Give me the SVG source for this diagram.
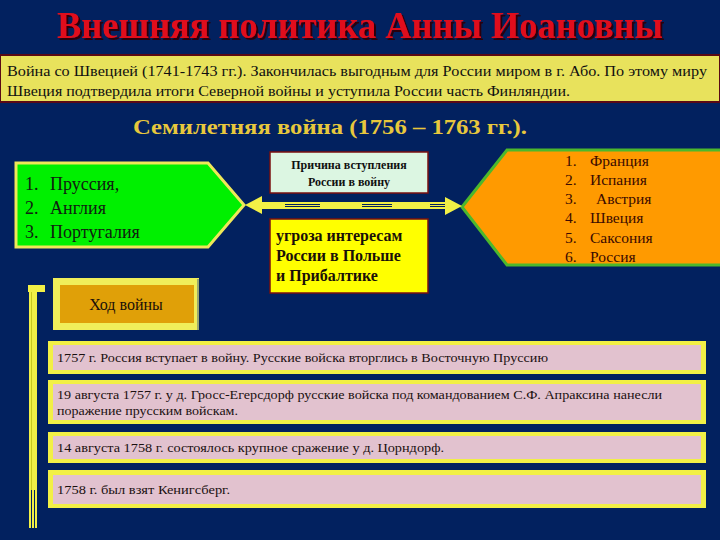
<svg xmlns="http://www.w3.org/2000/svg" width="720" height="540" viewBox="0 0 720 540">
<defs>
<filter id="sh" x="-5%" y="-20%" width="110%" height="150%"><feDropShadow dx="2" dy="2" stdDeviation="0.6" flood-color="#2a0008" flood-opacity="1"/></filter>
</defs>
<style>
text{font-family:'Liberation Serif','Times New Roman',Times,'DejaVu Serif','Noto Serif',serif}
.tl{font-size:13px;fill:#1a1010}
.tbox{fill:#f2f046}
.tin{fill:#e2c2cf}
.lst{font-size:18px;fill:#102010}
.olst{font-size:15.5px;fill:#3a0a00}
</style>
<rect width="720" height="540" fill="#02215f"/>
<g id="title">
<text x="57" y="38" font-size="38" font-weight="bold" fill="#e0101c" filter="url(#sh)" textLength="606" lengthAdjust="spacingAndGlyphs">Внешняя политика  Анны Иоановны</text>
</g>
<g id="sweden">
<rect x="0" y="54" width="720" height="49" fill="#5a0a14"/>
<rect x="1" y="56" width="718" height="45" fill="#e8e25c"/>
<text x="7" y="76" font-size="15" fill="#101010" textLength="700" lengthAdjust="spacingAndGlyphs">Война со Швецией (1741-1743 гг.). Закончилась выгодным для России миром в г. Або. По этому миру</text>
<text x="7" y="96" font-size="15" fill="#101010" textLength="563" lengthAdjust="spacingAndGlyphs">Швеция подтвердила итоги Северной войны и уступила России часть Финляндии.</text>
</g>
<g id="seven-years">
<text x="133" y="134" font-size="21" font-weight="bold" fill="#e8c83c" textLength="394" lengthAdjust="spacingAndGlyphs">Семилетняя война (1756 – 1763 гг.).</text>
</g>
<g id="allies">
<polygon points="16,163 208,163 244,205 208,247 16,247" fill="#00f000" stroke="#f0e858" stroke-width="3"/>
<text class="lst" x="25" y="190">1.</text><text class="lst" x="50" y="190">Пруссия,</text>
<text class="lst" x="25" y="214">2.</text><text class="lst" x="50" y="214">Англия</text>
<text class="lst" x="25" y="238">3.</text><text class="lst" x="50" y="238">Португалия</text>
</g>
<g id="reason-title">
<rect x="270" y="152" width="158" height="41" fill="#dcf6e2" stroke="#7a1010" stroke-width="1.5"/>
<text x="349" y="169" font-size="12" font-weight="bold" fill="#101010" text-anchor="middle">Причина вступления</text>
<text x="349" y="186" font-size="12" font-weight="bold" fill="#101010" text-anchor="middle">России в войну</text>
</g>
<g id="reason">
<rect x="270" y="219" width="158" height="74" fill="#ffff00" stroke="#7a1010" stroke-width="1.5"/>
<text x="276" y="241" font-size="16" font-weight="bold" fill="#1a1008">угроза интересам</text>
<text x="276" y="261" font-size="16" font-weight="bold" fill="#1a1008">России в Польше</text>
<text x="276" y="281" font-size="16" font-weight="bold" fill="#1a1008">и Прибалтике</text>
</g>
<g id="enemies">
<polygon points="462,207 507,150 722,150 722,265 507,265" fill="#ff9a00" stroke="#4cb82c" stroke-width="3"/>
<text class="olst" x="565" y="166">1.</text><text class="olst" x="590" y="166">Франция</text>
<text class="olst" x="565" y="185">2.</text><text class="olst" x="590" y="185">Испания</text>
<text class="olst" x="565" y="204">3.</text><text class="olst" x="596" y="204">Австрия</text>
<text class="olst" x="565" y="223">4.</text><text class="olst" x="590" y="223">Швеция</text>
<text class="olst" x="565" y="243">5.</text><text class="olst" x="590" y="243">Саксония</text>
<text class="olst" x="565" y="262">6.</text><text class="olst" x="590" y="262">Россия</text>
</g>
<g id="connectors">
<polygon points="245,205 262,196 262,202 445,202 445,197 462,206 445,215 445,209 262,209 262,214" fill="#f2f046"/>
<g stroke="#02215f" stroke-width="1">
<line x1="285" y1="204.5" x2="320" y2="204.5"/><line x1="285" y1="206.5" x2="320" y2="206.5"/>
<line x1="362" y1="204.5" x2="392" y2="204.5"/><line x1="362" y1="206.5" x2="392" y2="206.5"/>
<line x1="430" y1="204.5" x2="445" y2="204.5"/><line x1="430" y1="206.5" x2="445" y2="206.5"/>
</g>
</g>
<g id="timeline-bar">
<rect x="28" y="285" width="17" height="7" fill="#f2f046"/>
<rect x="29" y="285" width="8" height="243" fill="#f2f046"/>
<line x1="31.5" y1="292" x2="31.5" y2="505" stroke="#c8c820" stroke-width="1"/>
<line x1="31.5" y1="490" x2="31.5" y2="528" stroke="#02215f" stroke-width="1"/>
<line x1="34.5" y1="490" x2="34.5" y2="528" stroke="#02215f" stroke-width="1"/>
</g>
<g id="course">
<rect x="53" y="278" width="146" height="52" fill="#f0ee5a"/>
<rect x="60" y="285" width="134" height="38" fill="#e0a008"/>
<line x1="198" y1="279" x2="198" y2="330" stroke="#9aa870" stroke-width="2"/>
<text x="126" y="310" font-size="16" fill="#1a1008" text-anchor="middle">Ход войны</text>
</g>
<g id="event1">
<rect class="tbox" x="48" y="341" width="658" height="33"/>
<rect class="tin" x="53" y="345" width="648" height="25"/>
<text class="tl" x="57" y="362" textLength="491" lengthAdjust="spacingAndGlyphs">1757 г. Россия вступает в войну. Русские войска вторглись в Восточную Пруссию</text>
</g>
<g id="event2">
<rect class="tbox" x="48" y="380" width="658" height="44"/>
<rect class="tin" x="53" y="384" width="648" height="36"/>
<text class="tl" x="57" y="399" textLength="605" lengthAdjust="spacingAndGlyphs">19 августа 1757 г. у д. Гросс-Егерсдорф русские войска под командованием С.Ф. Апраксина нанесли</text>
<text class="tl" x="57" y="415" textLength="181" lengthAdjust="spacingAndGlyphs">поражение прусским войскам.</text>
</g>
<g id="event3">
<rect class="tbox" x="48" y="432" width="658" height="31"/>
<rect class="tin" x="53" y="436" width="648" height="23"/>
<text class="tl" x="57" y="452" textLength="387" lengthAdjust="spacingAndGlyphs">14 августа 1758 г. состоялось крупное сражение у д. Цорндорф.</text>
</g>
<g id="event4">
<rect class="tbox" x="48" y="470" width="658" height="38"/>
<rect class="tin" x="53" y="475" width="648" height="29"/>
<text class="tl" x="57" y="494" textLength="173" lengthAdjust="spacingAndGlyphs">1758 г. был взят Кенигсберг.</text>
</g>
</svg>
